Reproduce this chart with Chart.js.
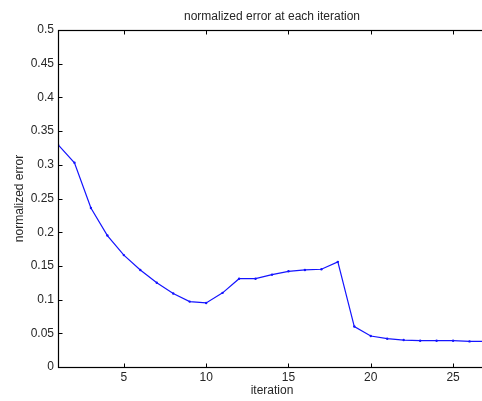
<!DOCTYPE html>
<html>
<head>
<meta charset="utf-8">
<script src="https://cdn.jsdelivr.net/npm/chart.js@4.4.1/dist/chart.umd.min.js"></script>
<style>
  html, body { margin: 0; padding: 0; background: #fff; overflow: hidden; }
  #wrap { width: 500px; height: 401px; }
</style>
</head>
<body>
<div id="wrap"><canvas id="c" width="500" height="401"></canvas></div>
<script>
// Iteration number and normalized error at that iteration
const iterations = [1, 2, 3, 4, 5, 6, 7, 8, 9, 10, 11, 12, 13, 14, 15, 16, 17, 18, 19, 20, 21, 22, 23, 24, 25, 26, 27];
const normErr = [0.330, 0.303, 0.236, 0.195, 0.166, 0.144, 0.125, 0.109, 0.097, 0.095, 0.110, 0.131,
                 0.131, 0.137, 0.142, 0.144, 0.145, 0.156, 0.060, 0.046, 0.042, 0.040, 0.039, 0.039,
                 0.039, 0.038, 0.038];

const xTicks = [5, 10, 15, 20, 25];
const yTicks = [0, 0.05, 0.1, 0.15, 0.2, 0.25, 0.3, 0.35, 0.4, 0.45, 0.5];

const titleText = 'normalized error at each iteration';
const xLabel = 'iteration';
const yLabel = 'normalized error';

const FONT = '"Liberation Sans", Arial, Helvetica, sans-serif';
const TEXT = '#262626';

// Box around the axes with inward tick marks on all four sides, plus titles
const axesBox = {
  id: 'axesBox',
  afterDraw(chart) {
    const { ctx, chartArea: a, scales: { x, y } } = chart;
    const L = Math.round(a.left) + 0.5, R = Math.round(a.right) + 0.5;
    const T = Math.round(a.top) + 0.5, B = Math.round(a.bottom) + 0.5;
    const tl = 4;
    ctx.save();
    ctx.strokeStyle = '#000';
    ctx.lineWidth = 1.2;
    ctx.strokeRect(L, T, R - L, B - T);
    ctx.beginPath();
    xTicks.forEach(v => {
      const px = Math.round(x.getPixelForValue(v)) + 0.5;
      ctx.moveTo(px, B); ctx.lineTo(px, B - tl);
      ctx.moveTo(px, T); ctx.lineTo(px, T + tl);
    });
    yTicks.forEach(v => {
      const py = Math.round(y.getPixelForValue(v)) + 0.5;
      ctx.moveTo(L, py); ctx.lineTo(L + tl, py);
      ctx.moveTo(R, py); ctx.lineTo(R - tl, py);
    });
    ctx.lineWidth = 1;
    ctx.stroke();

    ctx.fillStyle = TEXT;
    ctx.font = '12px ' + FONT;
    ctx.textAlign = 'center';
    ctx.textBaseline = 'middle';
    const cx = (a.left + a.right) / 2;
    ctx.fillText(titleText, cx, 17);
    ctx.fillText(xLabel, cx, 391);
    ctx.translate(20, (a.top + a.bottom) / 2);
    ctx.rotate(-Math.PI / 2);
    ctx.fillText(yLabel, 0, 0);
    ctx.restore();
  }
};

new Chart(document.getElementById('c'), {
  type: 'line',
  data: {
    datasets: [{
      data: iterations.map((it, i) => ({ x: it, y: normErr[i] })),
      borderColor: 'rgb(20,20,255)',
      backgroundColor: 'rgb(20,20,255)',
      borderWidth: 1.2,
      pointRadius: 1.2,
      pointBorderWidth: 0,
      tension: 0,
      fill: false
    }]
  },
  options: {
    responsive: false,
    animation: false,
    layout: { padding: { top: 30, right: 14, bottom: 0, left: 0 } },
    plugins: { legend: { display: false }, tooltip: { enabled: false }, title: { display: false } },
    scales: {
      x: {
        type: 'linear',
        min: 1, max: 27,
        grid: { display: false, drawTicks: false },
        border: { display: false },
        afterBuildTicks: s => { s.ticks = xTicks.map(v => ({ value: v })); },
        afterFit: s => { s.height = 34; },
        ticks: {
          padding: 3,
          color: TEXT,
          font: { family: FONT, size: 12 },
          maxRotation: 0,
          callback: v => String(v)
        }
      },
      y: {
        min: 0, max: 0.5,
        grid: { display: false, drawTicks: false },
        border: { display: false },
        afterBuildTicks: s => { s.ticks = yTicks.map(v => ({ value: v })); },
        afterFit: s => { s.width = 58; },
        ticks: {
          padding: 4,
          color: TEXT,
          font: { family: FONT, size: 12 },
          callback: v => String(+Number(v).toFixed(2))
        }
      }
    }
  },
  plugins: [axesBox]
});
</script>
</body>
</html>
